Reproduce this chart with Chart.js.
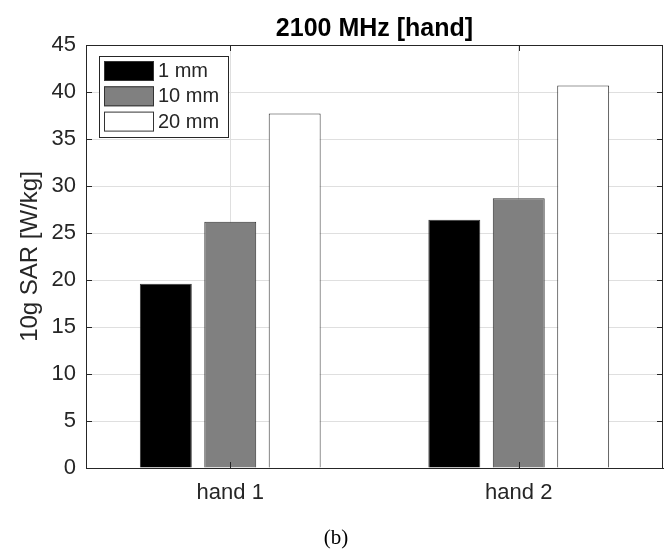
<!DOCTYPE html>
<html>
<head>
<meta charset="utf-8">
<script src="https://cdn.jsdelivr.net/npm/chart.js@4"></script>
<style>
  html, body { margin: 0; padding: 0; background: #fff; }
  #wrap { width: 672px; height: 554px; }
</style>
</head>
<body>
<div id="wrap"><canvas id="myChart" width="672" height="554"></canvas></div>
<script>
const categories = ['hand 1', 'hand 2'];
const seriesLabels = ['1 mm', '10 mm', '20 mm'];
const sar1mm = [19.6, 26.4];
const sar10mm = [26.2, 28.7];
const sar20mm = [37.7, 40.7];
const yMin = 0;
const yMax = 45;
const yStep = 5;

const chartTitle = '2100 MHz [hand]';
const yLabel = '10g SAR [W/kg]';
const caption = '(b)';

const sans = '"Liberation Sans", Arial, Helvetica, sans-serif';
const ink = '#262626';

const ctx = document.getElementById('myChart');

// title, caption, box frame, inside ticks and legend like the matlab figure
const figurePlugin = {
  id: 'figure',
  afterDraw(chart) {
    const c = chart.ctx;
    const a = chart.chartArea;
    const xs = chart.scales.x;
    const ys = chart.scales.y;
    c.save();

    // frame
    c.strokeStyle = ink;
    c.lineWidth = 1;
    c.strokeRect(a.left + 0.5, a.top + 0.5, a.right - a.left - 1, a.bottom - a.top);

    // tick marks inside the box
    const tl = 6;
    c.beginPath();
    ys.ticks.forEach(t => {
      const y = Math.round(ys.getPixelForValue(t.value)) + 0.5;
      c.moveTo(a.left, y); c.lineTo(a.left + tl, y);
      c.moveTo(a.right, y); c.lineTo(a.right - tl, y);
    });
    xs.ticks.forEach((t, i) => {
      const x = Math.round(xs.getPixelForTick(i)) + 0.5;
      c.moveTo(x, a.bottom); c.lineTo(x, a.bottom - tl);
      c.moveTo(x, a.top); c.lineTo(x, a.top + tl);
    });
    c.stroke();

    // title
    c.fillStyle = '#000';
    c.font = 'bold 25px ' + sans;
    c.textAlign = 'center';
    c.textBaseline = 'middle';
    c.fillText(chartTitle, (a.left + a.right) / 2, 29);

    // caption
    c.font = '21px "Liberation Serif", "Times New Roman", serif';
    c.fillText(caption, chart.width / 2, 538);

    // legend
    const lx = a.left + 13, ly = a.top + 11;
    c.fillStyle = '#fff';
    c.fillRect(lx, ly, 129, 81);
    c.strokeStyle = ink;
    c.strokeRect(lx + 0.5, ly + 0.5, 129, 81);
    c.font = '20px ' + sans;
    c.textAlign = 'left';
    chart.data.datasets.forEach((ds, i) => {
      const ry = ly + 5 + i * 25.3;
      c.fillStyle = ds.backgroundColor;
      c.fillRect(lx + 5, ry, 50, 20);
      c.strokeStyle = ds.borderColor;
      c.strokeRect(lx + 5.5, ry + 0.5, 49, 19);
      c.fillStyle = ink;
      c.fillText(ds.label, lx + 59, ry + 10.5);
    });
    c.restore();
  }
};

const myChart = new Chart(ctx, {
  type: 'bar',
  data: {
    labels: categories,
    datasets: [
      { label: seriesLabels[0], data: sar1mm, backgroundColor: '#000000', borderColor: '#333333', borderWidth: 1 },
      { label: seriesLabels[1], data: sar10mm, backgroundColor: '#808080', borderColor: '#333333', borderWidth: 1 },
      { label: seriesLabels[2], data: sar20mm, backgroundColor: '#ffffff', borderColor: '#333333', borderWidth: 1 }
    ]
  },
  options: {
    responsive: false,
    animation: false,
    devicePixelRatio: 1,
    layout: { padding: { top: 45, right: 9, left: 0, bottom: 0 } },
    datasets: {
      bar: { categoryPercentage: 0.67, barPercentage: 0.806 }
    },
    plugins: {
      legend: { display: false },
      title: { display: false },
      tooltip: { enabled: false }
    },
    scales: {
      x: {
        afterFit: s => { s.height = 86; },
        grid: { offset: false, color: '#dfdfdf', drawTicks: false },
        border: { color: ink },
        ticks: { color: ink, padding: 12, font: { family: sans, size: 22 } }
      },
      y: {
        min: yMin,
        max: yMax,
        afterFit: s => { s.width = 86; },
        grid: { color: '#dfdfdf', drawTicks: false },
        border: { color: ink },
        ticks: { stepSize: yStep, color: ink, padding: 10, font: { family: sans, size: 22 } },
        title: {
          display: true,
          text: yLabel,
          color: ink,
          font: { family: sans, size: 24 },
          padding: { top: 16, bottom: 0 }
        }
      }
    }
  },
  plugins: [figurePlugin]
});
</script>
</body>
</html>
